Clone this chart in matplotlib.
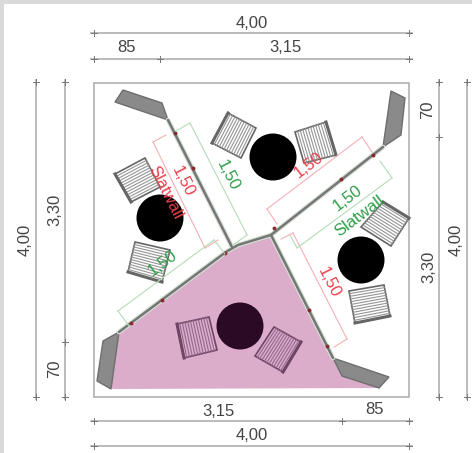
"""Floor plan of a 4 x 4 m room with four seating corners."""

import matplotlib
matplotlib.use("Agg")
import matplotlib.pyplot as plt
from matplotlib.patches import Circle, Polygon, Rectangle

plt.rcParams["font.family"] = ["Liberation Sans", "DejaVu Sans"]

# ---------------------------------------------------------------------------
# Content (all positions in reference pixels)
# ---------------------------------------------------------------------------
ROOM = [94, 83, 409, 397]
PINK_AREA = [(111, 389), (118, 332), (226, 252), (238, 245), (271, 235),
             (333, 358), (341, 375), (378, 388)]

GREY_PIECES = [
    [(115, 102), (123, 90), (162, 103), (168, 120)],
    [(391, 91), (405, 98), (401, 135), (383, 147)],
    [(97, 381), (103, 341), (119, 332), (111, 389)],
    [(333, 358), (389, 377), (379, 388), (342, 376)],
]
WALLS = [
    [(168, 120), (232, 247)],
    [(383, 147), (271, 235)],
    [(119, 332), (226, 252), (238, 245), (271, 235)],
    [(271, 235), (333, 358)],
]
WALL_MARKS = [(175, 133), (193, 168), (373, 155), (341, 179), (274, 228),
              (131, 323), (162, 300), (225, 253), (309, 310), (327, 346)]

TABLES = [(160, 218, False), (273, 157, False), (361, 260, False), (240, 326, True)]

# chair corners, in drawing order round the seat
CHAIRS = [
    ([(115, 174), (145, 158), (160, 187), (131, 202)], False),
    ([(135, 242), (170, 250), (162, 282), (128, 272)], False),
    ([(228, 113), (256, 128), (241, 158), (212, 143)], False),
    ([(295, 132), (326, 122), (336, 155), (304, 163)], False),
    ([(383, 202), (409, 218), (391, 246), (361, 227)], False),
    ([(349, 291), (384, 285), (390, 316), (355, 323)], False),
    ([(177, 324), (209, 317), (217, 350), (184, 358)], True),
    ([(274, 327), (301, 342), (283, 372), (255, 356)], True),
]
CHAIR_STRIPE_AXIS = [1, 1, 0, 0, 1, 1, 0, 0]
CHAIR_HEAVY_EDGE = [3, 2, 3, 1, 0, 2, 3, 1]

# outer dimension chains: start, end, tick positions
H_DIMS = [(33, 94, 409, [94, 409]), (59, 94, 409, [94, 160, 409]),
          (421, 94, 409, [94, 342, 409]), (446, 94, 409, [94, 409])]
V_DIMS = [(36, 82, 397, [82, 397]), (65, 82, 397, [82, 342, 397]),
          (439, 82, 397, [82, 137, 397]), (467, 82, 397, [82, 397])]

OUTER_LABELS = [
    ("4,00", 252, 23, 0), ("85", 127, 48, 0), ("3,15", 285, 48, 0),
    ("4,00", 25, 240, 90), ("3,30", 55, 210, 90), ("70", 55, 369, 90),
    ("70", 428, 110, 90), ("3,30", 429, 267, 90), ("4,00", 456, 240, 90),
    ("3,15", 218, 411, 0), ("85", 375, 410, 0), ("4,00", 252, 436, 0),
]

# inner dimensions: line start, line end, foot at start, foot at end
RED_DIMS = [
    [(153, 142), (205, 248), (166, 135), (218, 240)],
    [(362, 137), (267, 209), (372, 152), (277, 224)],
    [(293, 233), (347, 339), (281, 239), (334, 347)],
]
GREEN_DIMS = [
    [(190, 123), (247, 235), (176, 131), (233, 245)],
    [(392, 178), (297, 248), (380, 161), (290, 235)],
    [(118, 311), (214, 240), (129, 326), (225, 254)],
]
RED_LABELS = [("1,50", 183, 181, -63), ("1,50", 309, 165, 37),
              ("1,50", 329, 282, -63), ("Slatwall", 165, 193, -63)]
GREEN_LABELS = [("1,50", 228, 175, -63), ("1,50", 348, 198, 37),
                ("1,50", 163, 263, 37), ("Slatwall", 360, 216, 37)]

GREY = "#a8a8a8"
TEXT = "#444444"
RED = "#e8404c"
RED_LINE = "#f4b0b4"
GREEN = "#2e9e48"
GREEN_LINE = "#b5dcb8"
PINK = "#dcaccb"


def draw_tick(ax, x, y):
    ax.plot([x - 3, x + 3], [y, y], color="#777777", lw=0.7, zorder=3)
    ax.plot([x, x], [y - 3, y + 3], color="#777777", lw=0.7, zorder=3)


def draw_outer_dims(ax):
    for y, x0, x1, ticks in H_DIMS:
        ax.plot([x0 - 3, x1 + 3], [y, y], color=GREY, lw=1.1)
        for x in ticks:
            draw_tick(ax, x, y)
    for x, y0, y1, ticks in V_DIMS:
        ax.plot([x, x], [y0 - 2, y1 + 2], color=GREY, lw=1.1)
        for y in ticks:
            draw_tick(ax, x, y)
    for s, x, y, rot in OUTER_LABELS:
        ax.text(x, y, s, ha="center", va="center", rotation=rot,
                fontsize=12, color=TEXT)


def draw_chair(ax, corners, dark, axis, heavy):
    edge = "#6e4565" if dark else "#666666"
    stripe = "#93688c" if dark else "#959595"
    fill = PINK if dark else "white"
    ax.add_patch(Polygon(corners, closed=True, facecolor=fill, edgecolor=edge,
                         lw=1.2, zorder=4))
    a, b, c, d = corners
    if axis == 1:  # stripes parallel to edge a-b
        p, q, r, s = a, d, b, c
    else:          # stripes parallel to edge a-d
        p, q, r, s = a, b, d, c
    n = 12
    for i in range(1, n):
        t = i / n
        start = (p[0] + (q[0] - p[0]) * t, p[1] + (q[1] - p[1]) * t)
        end = (r[0] + (s[0] - r[0]) * t, r[1] + (s[1] - r[1]) * t)
        ax.plot([start[0], end[0]], [start[1], end[1]], color=stripe, lw=0.8, zorder=5)
    h0, h1 = corners[heavy], corners[(heavy + 1) % 4]
    ax.plot([h0[0], h1[0]], [h0[1], h1[1]], color=edge, lw=2.2, zorder=5)


def draw_inner_dims(ax, dims, color):
    for start, end, foot0, foot1 in dims:
        ax.plot([start[0], end[0]], [start[1], end[1]], color=color, lw=0.8, zorder=6)
        ax.plot([start[0], foot0[0]], [start[1], foot0[1]], color=color, lw=0.8, zorder=6)
        ax.plot([end[0], foot1[0]], [end[1], foot1[1]], color=color, lw=0.8, zorder=6)


def main():
    fig = plt.figure(figsize=(4.72, 4.53), dpi=100)
    ax = fig.add_axes([0, 0, 1, 1])
    ax.set_xlim(0, 472)
    ax.set_ylim(453, 0)
    ax.axis("off")

    # grey screenshot edge
    ax.add_patch(Rectangle((0, 0), 472, 4, facecolor="#d9d9d9", edgecolor="none"))
    ax.add_patch(Rectangle((0, 0), 4, 453, facecolor="#d9d9d9", edgecolor="none"))

    x0, y0, x1, y1 = ROOM
    ax.add_patch(Rectangle((x0, y0), x1 - x0, y1 - y0, facecolor="white",
                           edgecolor="#b0b0b0", lw=1.2))
    ax.add_patch(Polygon(PINK_AREA, closed=True, facecolor=PINK, edgecolor="none", zorder=1))

    draw_outer_dims(ax)

    for pts in GREY_PIECES:
        ax.add_patch(Polygon(pts, closed=True, facecolor="#8a8a8a",
                             edgecolor="#6e6e6e", lw=1, zorder=2))
    for pts in WALLS:
        xs, ys = zip(*pts)
        ax.plot(xs, ys, color="#d5e4d5", lw=3.4, zorder=2, solid_capstyle="round")
        ax.plot(xs, ys, color="#767676", lw=1.8, zorder=3, solid_capstyle="round")
    for x, y in WALL_MARKS:
        ax.plot(x, y, "o", ms=1.8, color="#8a2a30", zorder=3)

    draw_inner_dims(ax, RED_DIMS, RED_LINE)
    draw_inner_dims(ax, GREEN_DIMS, GREEN_LINE)

    for (corners, dark), axis, heavy in zip(CHAIRS, CHAIR_STRIPE_AXIS, CHAIR_HEAVY_EDGE):
        draw_chair(ax, corners, dark, axis, heavy)
    for x, y, dark in TABLES:
        ax.add_patch(Circle((x, y), 23.5, facecolor="#2a0a25" if dark else "black",
                            edgecolor="none", zorder=4))

    for s, x, y, rot in RED_LABELS:
        ax.text(x, y, s, ha="center", va="center", rotation=rot, fontsize=12,
                color=RED, zorder=7, rotation_mode="anchor")
    for s, x, y, rot in GREEN_LABELS:
        ax.text(x, y, s, ha="center", va="center", rotation=rot, fontsize=12,
                color=GREEN, zorder=7, rotation_mode="anchor")

    fig.savefig("out.png", dpi=100, facecolor="white")
    plt.close(fig)


if __name__ == "__main__":
    main()
